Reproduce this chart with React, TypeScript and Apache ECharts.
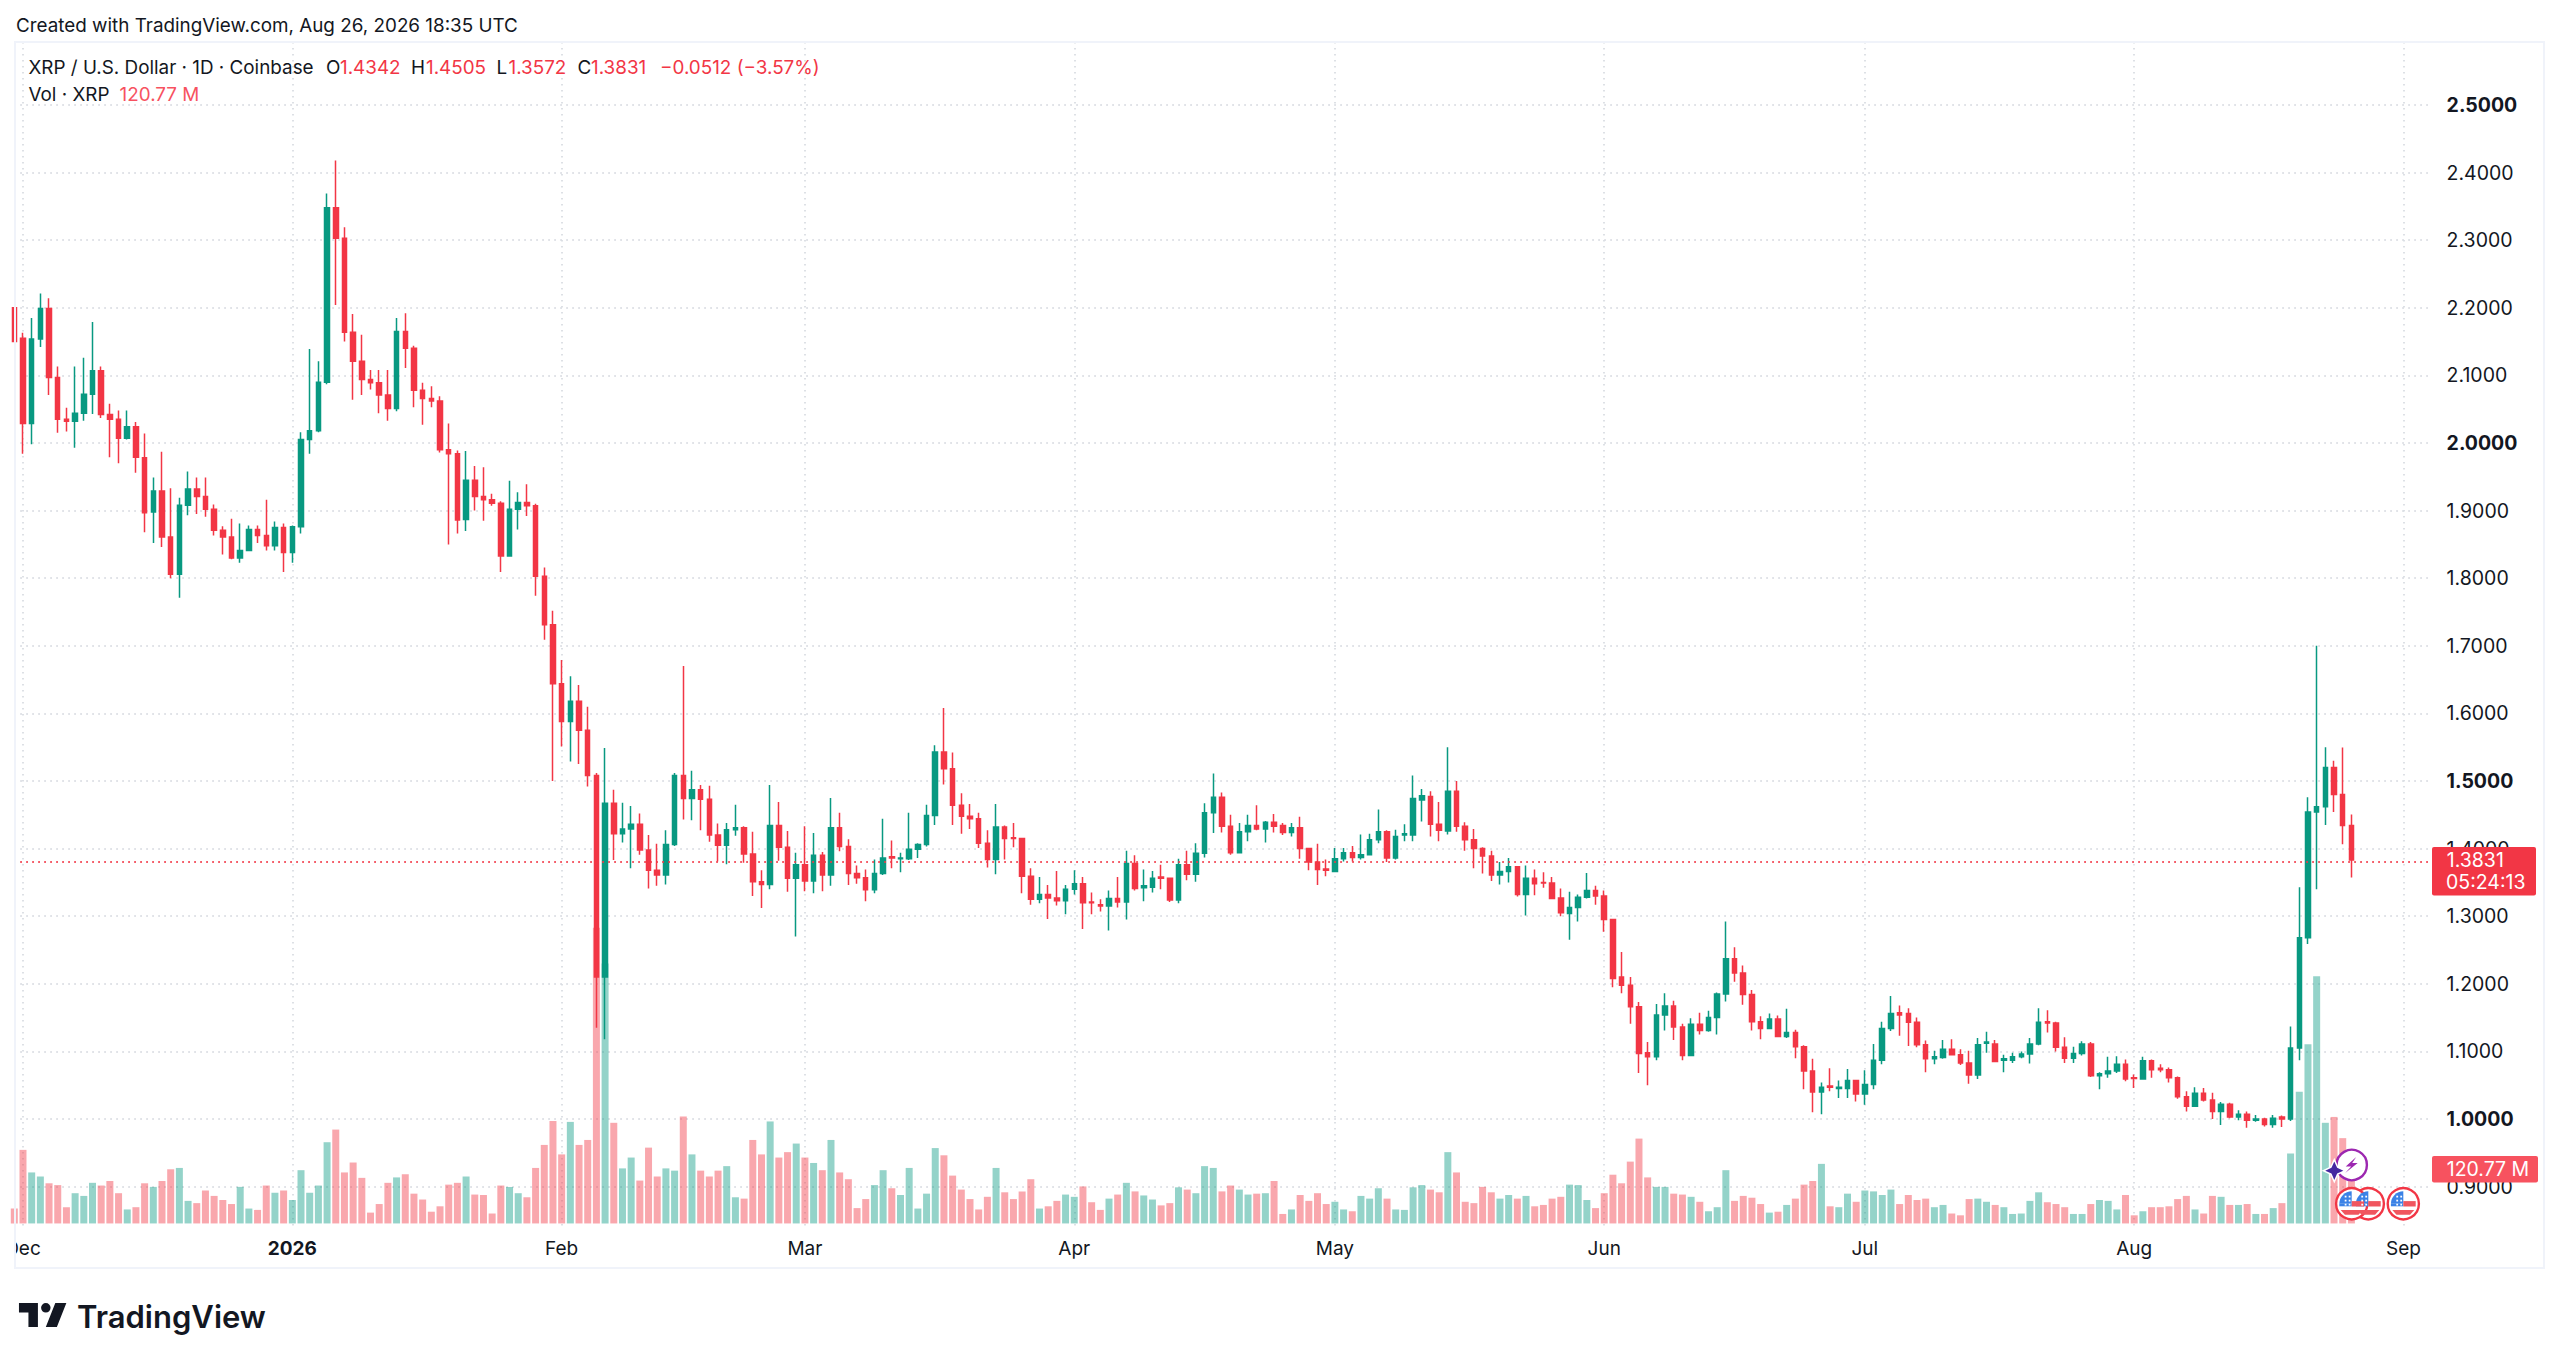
import React, { useEffect, useRef } from "react";
import * as echarts from "echarts";

const startDay = Date.UTC(2025, 10, 30);
const slots = 279;
const categories: string[] = [];
for (let i = 0; i < slots; i++) categories.push(new Date(startDay + i * 86400000).toISOString().slice(0, 10));

const monthLabels: Record<string, string> = {
  "2025-12-01": "Dec", "2026-01-01": "2026", "2026-02-01": "Feb", "2026-03-01": "Mar", "2026-04-01": "Apr",
  "2026-05-01": "May", "2026-06-01": "Jun", "2026-07-01": "Jul", "2026-08-01": "Aug", "2026-09-01": "Sep",
};

const opens = [
  2.2,2.155,2.029,2.154,2.199,2.097,2.035,2.032,2.044,2.072,
  2.107,2.042,2.035,2.007,2.024,1.978,1.898,1.929,1.861,1.806,
  1.908,1.932,1.921,1.902,1.871,1.861,1.83,1.841,1.872,1.863,
  1.848,1.875,1.838,1.876,2.005,2.018,2.09,2.348,2.303,2.164,
  2.121,2.094,2.089,2.071,2.051,2.165,2.14,2.078,2.066,2.062,
  1.99,1.984,1.887,1.945,1.921,1.916,1.911,1.833,1.902,1.912,
  1.907,1.803,1.731,1.644,1.588,1.618,1.575,1.508,1.21,1.467,
  1.422,1.429,1.436,1.398,1.368,1.361,1.406,1.508,1.474,1.487,
  1.473,1.42,1.405,1.428,1.431,1.392,1.351,1.347,1.434,1.402,
  1.356,1.376,1.352,1.39,1.361,1.431,1.403,1.363,1.357,1.339,
  1.363,1.388,1.385,1.385,1.399,1.406,1.449,1.543,1.518,1.464,
  1.448,1.444,1.408,1.384,1.432,1.416,1.415,1.359,1.325,1.332,
  1.327,1.323,1.34,1.348,1.321,1.317,1.315,1.326,1.321,1.378,
  1.342,1.343,1.358,1.356,1.324,1.376,1.362,1.393,1.453,1.476,
  1.433,1.394,1.425,1.434,1.429,1.439,1.434,1.424,1.431,1.4,
  1.38,1.37,1.366,1.385,1.394,1.387,1.391,1.413,1.425,1.386,
  1.42,1.42,1.472,1.477,1.436,1.426,1.485,1.433,1.413,1.4,
  1.389,1.361,1.366,1.373,1.332,1.356,1.35,1.349,1.327,1.304,
  1.313,1.328,1.338,1.33,1.295,1.21,1.198,1.166,1.098,1.092,
  1.154,1.167,1.136,1.094,1.14,1.131,1.15,1.185,1.237,1.216,
  1.184,1.144,1.134,1.148,1.122,1.128,1.107,1.071,1.04,1.049,
  1.045,1.045,1.057,1.037,1.051,1.087,1.134,1.157,1.156,1.143,
  1.11,1.089,1.091,1.103,1.095,1.083,1.065,1.112,1.111,1.087,
  1.087,1.092,1.096,1.111,1.144,1.142,1.106,1.09,1.097,1.111,
  1.064,1.067,1.071,1.081,1.061,1.059,1.086,1.075,1.073,1.061,
  1.033,1.019,1.038,1.028,1.011,1.022,1.003,1.007,0.998,1.0,
  0.992,1.003,1.0,1.105,1.268,1.454,1.462,1.52,1.48,1.4342,
];
const closes = [
  2.15,2.029,2.154,2.199,2.097,2.035,2.032,2.044,2.072,2.107,
  2.042,2.035,2.007,2.024,1.979,1.897,1.929,1.861,1.806,1.908,
  1.932,1.921,1.902,1.871,1.861,1.83,1.841,1.872,1.863,1.848,
  1.875,1.838,1.876,2.005,2.018,2.09,2.348,2.303,2.164,2.121,
  2.094,2.089,2.071,2.051,2.165,2.14,2.078,2.066,2.062,1.99,
  1.984,1.886,1.945,1.921,1.916,1.911,1.833,1.902,1.912,1.907,
  1.803,1.731,1.644,1.588,1.618,1.575,1.508,1.21,1.467,1.422,
  1.429,1.436,1.398,1.368,1.361,1.406,1.508,1.474,1.487,1.473,
  1.42,1.405,1.428,1.431,1.392,1.351,1.347,1.434,1.402,1.356,
  1.376,1.352,1.39,1.361,1.431,1.403,1.363,1.357,1.339,1.363,
  1.386,1.386,1.386,1.399,1.406,1.449,1.543,1.518,1.464,1.448,
  1.444,1.408,1.384,1.432,1.415,1.415,1.359,1.325,1.332,1.327,
  1.323,1.34,1.348,1.32,1.32,1.315,1.326,1.321,1.378,1.341,
  1.345,1.356,1.356,1.324,1.376,1.362,1.393,1.453,1.476,1.433,
  1.394,1.425,1.434,1.429,1.439,1.433,1.424,1.431,1.4,1.38,
  1.369,1.368,1.385,1.394,1.387,1.391,1.413,1.425,1.386,1.418,
  1.422,1.474,1.478,1.436,1.427,1.485,1.433,1.413,1.4,1.389,
  1.361,1.366,1.373,1.332,1.356,1.348,1.349,1.326,1.305,1.313,
  1.328,1.338,1.33,1.295,1.208,1.198,1.166,1.097,1.092,1.154,
  1.167,1.136,1.094,1.14,1.131,1.15,1.185,1.237,1.216,1.184,
  1.144,1.134,1.148,1.122,1.128,1.107,1.071,1.04,1.047,1.047,
  1.047,1.057,1.037,1.051,1.087,1.134,1.156,1.154,1.143,1.11,
  1.089,1.092,1.103,1.095,1.083,1.065,1.11,1.114,1.085,1.089,
  1.092,1.096,1.111,1.143,1.142,1.106,1.09,1.097,1.111,1.064,
  1.067,1.071,1.081,1.059,1.06,1.086,1.073,1.073,1.061,1.033,
  1.019,1.038,1.028,1.011,1.022,1.003,1.007,0.998,1.0,0.992,
  1.001,1.0,1.105,1.268,1.454,1.462,1.52,1.48,1.4342,1.3831,
];
const highs = [
  2.2,2.163,2.185,2.221,2.214,2.113,2.052,2.113,2.126,2.179,
  2.113,2.058,2.048,2.048,2.031,2.014,1.949,1.987,1.933,1.919,
  1.958,1.949,1.949,1.909,1.877,1.888,1.881,1.878,1.878,1.916,
  1.884,1.881,1.878,2.016,2.139,2.121,2.369,2.418,2.319,2.191,
  2.16,2.108,2.108,2.108,2.185,2.192,2.144,2.089,2.084,2.069,
  2.029,1.989,1.988,1.966,1.964,1.925,1.914,1.944,1.927,1.939,
  1.91,1.816,1.752,1.679,1.655,1.642,1.61,1.512,1.549,1.487,
  1.468,1.463,1.452,1.42,1.407,1.427,1.512,1.67,1.515,1.494,
  1.493,1.437,1.438,1.465,1.433,1.425,1.368,1.494,1.469,1.426,
  1.394,1.433,1.423,1.395,1.475,1.453,1.414,1.375,1.369,1.384,
  1.444,1.412,1.394,1.453,1.408,1.465,1.553,1.608,1.542,1.482,
  1.466,1.453,1.427,1.466,1.434,1.438,1.416,1.371,1.358,1.346,
  1.367,1.346,1.368,1.358,1.335,1.325,1.338,1.358,1.397,1.39,
  1.369,1.367,1.376,1.357,1.385,1.397,1.408,1.467,1.511,1.483,
  1.45,1.438,1.45,1.464,1.441,1.451,1.438,1.438,1.447,1.401,
  1.407,1.384,1.401,1.401,1.404,1.421,1.422,1.458,1.427,1.428,
  1.436,1.508,1.488,1.485,1.469,1.55,1.5,1.439,1.429,1.402,
  1.397,1.38,1.386,1.374,1.375,1.369,1.365,1.358,1.341,1.336,
  1.332,1.364,1.345,1.338,1.296,1.247,1.21,1.173,1.114,1.17,
  1.186,1.175,1.141,1.149,1.157,1.16,1.187,1.292,1.254,1.227,
  1.191,1.152,1.156,1.153,1.163,1.132,1.109,1.089,1.054,1.075,
  1.057,1.074,1.057,1.072,1.111,1.144,1.182,1.168,1.164,1.15,
  1.116,1.101,1.117,1.118,1.103,1.101,1.12,1.129,1.117,1.095,
  1.098,1.1,1.12,1.164,1.161,1.144,1.121,1.107,1.115,1.114,
  1.069,1.092,1.093,1.088,1.066,1.092,1.088,1.081,1.076,1.063,
  1.041,1.047,1.046,1.039,1.025,1.024,1.013,1.011,1.006,1.002,
  1.006,1.005,1.137,1.343,1.476,1.7,1.55,1.53,1.5494,1.4505,
];
const lows = [
  2.15,1.984,1.998,2.142,2.071,2.015,2.017,1.993,2.033,2.043,
  2.037,1.979,1.97,2.005,1.956,1.868,1.852,1.846,1.8,1.771,
  1.893,1.895,1.891,1.863,1.835,1.828,1.823,1.84,1.852,1.841,
  1.841,1.809,1.823,1.866,1.984,2.016,2.087,2.204,2.15,2.064,
  2.071,2.079,2.044,2.033,2.047,2.111,2.053,2.027,2.053,1.986,
  1.85,1.866,1.87,1.9,1.885,1.907,1.809,1.832,1.872,1.892,
  1.774,1.709,1.5,1.551,1.529,1.525,1.492,1.135,1.118,1.383,
  1.409,1.371,1.391,1.341,1.345,1.347,1.404,1.443,1.442,1.427,
  1.41,1.381,1.377,1.419,1.379,1.33,1.312,1.34,1.382,1.336,
  1.27,1.337,1.334,1.337,1.345,1.396,1.346,1.348,1.322,1.334,
  1.361,1.371,1.365,1.383,1.386,1.403,1.435,1.495,1.435,1.422,
  1.429,1.401,1.372,1.362,1.384,1.402,1.334,1.317,1.319,1.296,
  1.316,1.303,1.332,1.281,1.303,1.307,1.279,1.313,1.295,1.338,
  1.322,1.335,1.34,1.321,1.319,1.353,1.351,1.387,1.423,1.424,
  1.391,1.393,1.411,1.427,1.409,1.424,1.42,1.418,1.385,1.368,
  1.346,1.359,1.365,1.381,1.381,1.384,1.39,1.408,1.38,1.384,
  1.411,1.411,1.44,1.418,1.411,1.421,1.425,1.397,1.371,1.363,
  1.352,1.347,1.35,1.329,1.301,1.331,1.342,1.325,1.3,1.265,
  1.292,1.326,1.317,1.277,1.195,1.186,1.141,1.068,1.05,1.087,
  1.131,1.117,1.087,1.094,1.125,1.129,1.125,1.174,1.203,1.169,
  1.131,1.118,1.133,1.121,1.12,1.09,1.044,1.01,1.007,1.041,
  1.031,1.031,1.026,1.021,1.044,1.081,1.13,1.123,1.108,1.106,
  1.069,1.081,1.089,1.094,1.08,1.052,1.059,1.098,1.084,1.069,
  1.083,1.09,1.082,1.109,1.128,1.1,1.083,1.083,1.094,1.062,
  1.044,1.061,1.068,1.056,1.046,1.058,1.061,1.069,1.054,1.03,
  1.011,1.018,1.026,1.0,0.991,1.001,0.998,0.987,0.996,0.989,
  0.987,0.988,0.997,1.087,1.259,1.34,1.435,1.454,1.4066,1.3572,
];
const volumesM = [
  33,163,113,104,89,85,36,67,61,90,
  84,94,67,31,36,89,81,94,120,123,
  50,45,73,61,52,43,81,33,30,84,
  68,73,52,118,68,84,180,208,113,135,
  101,24,43,90,102,109,66,53,26,38,
  86,90,104,64,63,22,84,81,67,58,
  123,174,227,153,225,174,185,655,576,223,
  122,146,95,168,104,122,117,237,153,117,
  104,117,127,58,55,185,153,226,146,158,
  177,146,134,118,185,113,98,34,54,85,
  118,78,63,123,33,66,167,151,106,75,
  54,31,59,123,69,54,71,98,33,38,
  50,64,59,82,47,30,55,64,90,71,
  62,53,40,45,80,75,67,127,123,71,
  84,75,64,66,67,94,21,31,63,50,
  67,43,48,31,27,61,55,78,55,31,
  30,80,85,75,69,158,113,48,45,81,
  69,55,63,55,61,38,41,55,59,86,
  85,52,34,67,108,89,137,188,102,81,
  81,66,64,59,48,27,36,118,50,61,
  57,43,24,26,41,55,86,94,132,38,
  36,66,48,73,71,63,75,43,63,52,
  55,36,41,22,18,54,55,48,41,36,
  21,22,50,69,47,43,36,21,21,43,
  52,50,31,63,18,27,36,36,38,54,
  61,31,22,61,59,41,41,43,21,21,
  34,45,155,292,397,548,223,236,189,120.77,
];

const UP = "#089981";
const DOWN = "#F23645";
const UP_VOL = "rgba(8,153,129,0.43)";
const DOWN_VOL = "rgba(242,54,69,0.44)";
const TEXT = "#131722";
const GRID = "#DADDE3";
const FONT = "Inter, 'Noto Sans', sans-serif";
const lastClose = 1.3831;
const boldPrices = ["1.0000", "1.5000", "2.0000", "2.5000"];

echarts.graphic.registerShape("tvlogo", echarts.graphic.extendPath(
  "M14 6H2v6h6v9h6V6Zm12 15h-7l6-15h7l-6 15Zm-7-9a3 3 0 1 0 0-6 3 3 0 0 0 0 6Z", {}
) as any);

const txt = (text: string, x: number, y: number, fill: string, size: number, weight = 400, align = "left") => ({
  type: "text", x, y, z: 20, silent: true,
  style: { text, fill, font: `${weight} ${size}px ${FONT}`, align, verticalAlign: "middle" },
});

const flag = (cx: number, cy: number) => ({
  type: "group", x: cx, y: cy, z: 12, silent: true,
  children: [
    { type: "circle", shape: { r: 15.6 }, style: { fill: "#fff", stroke: DOWN, lineWidth: 2.4 }, z: 12 },
    { type: "sector", shape: { r: 12.4, startAngle: Math.PI, endAngle: Math.PI * 1.5 }, style: { fill: "#3B82E6" }, z: 13 },
    { type: "rect", shape: { x: -12.4, y: 0, width: 12.4, height: 2.6 }, style: { fill: "#3B82E6" }, z: 13 },
    { type: "rect", shape: { x: 0, y: -2.6, width: 12.4, height: 5.4 }, style: { fill: "#F0565F" }, z: 13 },
    { type: "polygon", shape: { points: [[-11, 6.4], [11, 6.4], [6.8, 11], [-6.8, 11]] }, style: { fill: "#F0565F" }, z: 13 },
    ...[[-7, -4], [-3, -4], [-7, -8], [-3, -8], [-7, 0], [-3, 0]].map(([x, y]) => ({
      type: "rect", shape: { x, y, width: 1.8, height: 1.8 }, style: { fill: "#fff" }, z: 14,
    })),
  ],
});

export default function App() {
  const ref = useRef<HTMLDivElement>(null);
  useEffect(() => {
    document.body.style.margin = "0";
    document.body.style.background = "#fff";
    const chart = echarts.init(ref.current!, undefined, { renderer: "svg" });
    const isMonth = (_: number, v: string) => v in monthLabels;
    const candleData = opens.map((o, i) => [o, closes[i], lows[i], highs[i]]);
    const volData = volumesM.map((v, i) => ({
      value: v,
      itemStyle: { color: closes[i] >= opens[i] ? UP_VOL : DOWN_VOL },
    }));
    const option: any = {
      animation: false,
      backgroundColor: "#fff",
      grid: [
        { left: 14.3, width: 2415.3, top: 37.4, height: 1216.8 },
        { left: 14.3, width: 2415.3, top: 42, height: 1185.5 },
      ],
      xAxis: [
        {
          type: "category", gridIndex: 0, data: categories, boundaryGap: false, show: false,
        },
        {
          type: "category", gridIndex: 1, data: categories, boundaryGap: false,
          axisLine: { show: false }, axisTick: { show: false },
          splitLine: { show: true, interval: isMonth, lineStyle: { color: GRID, type: [1.5, 4.5], width: 1.8 } },
          axisLabel: {
            interval: isMonth, margin: 11, color: TEXT, fontFamily: FONT, fontSize: 19,
            formatter: (v: string) => (monthLabels[v] === "2026" ? "{b|2026}" : monthLabels[v] ?? ""),
            rich: { b: { fontWeight: 700, fontSize: 19, fontFamily: FONT, color: TEXT } },
          },
        },
      ],
      yAxis: [
        {
          type: "value", gridIndex: 0, position: "right", min: 0.8, max: 2.6, interval: 0.1,
          axisLine: { show: false }, axisTick: { show: false },
          splitLine: { show: true, showMinLine: false, showMaxLine: false, lineStyle: { color: GRID, type: [1.5, 4.5], width: 1.8 } },
          axisLabel: {
            showMinLabel: false, showMaxLabel: false, margin: 17, align: "left", color: TEXT, fontFamily: FONT, fontSize: 19.5,
            formatter: (v: number) => { const s = v.toFixed(4); return boldPrices.includes(s) ? `{b|${s}}` : s; },
            rich: { b: { fontWeight: 700, fontSize: 19.5, fontFamily: FONT, color: TEXT } },
          },
        },
        { type: "value", gridIndex: 1, show: false, min: -9, max: 2618, splitLine: { show: false } },
      ],
      series: [
        {
          type: "bar", name: "Vol", xAxisIndex: 1, yAxisIndex: 1, data: volData, barWidth: 7, z: 1, silent: true,
        },
        {
          type: "candlestick", name: "XRP", xAxisIndex: 0, yAxisIndex: 0, data: candleData, barWidth: 5, z: 3, silent: true,
          itemStyle: { color: UP, color0: DOWN, borderColor: UP, borderColor0: DOWN, borderWidth: 1.5 },
          markLine: {
            symbol: "none", silent: true, animation: false, label: { show: false }, data: [{ yAxis: lastClose }],
            lineStyle: { color: DOWN, type: [1.5, 4.5], width: 1.8 },
          },
        },
      ],
      graphic: [
        { type: "rect", z: 10, silent: true, shape: { x: 0, y: 1232, width: 14.5, height: 40 }, style: { fill: "#fff" } },
        { type: "rect", z: 11, silent: true, shape: { x: 15, y: 42, width: 2529, height: 1226 }, style: { fill: "transparent", stroke: "#F0F3FA", lineWidth: 2 } },
        txt("Created with TradingView.com, Aug 26, 2026 18:35 UTC", 16, 25, TEXT, 18.85),
        txt("XRP / U.S. Dollar · 1D · Coinbase", 28.5, 67.7, TEXT, 18.85),
        txt("O", 326, 67.7, TEXT, 18.85),
        txt("1.4342", 340, 67.7, DOWN, 18.85),
        txt("H", 411, 67.7, TEXT, 18.85),
        txt("1.4505", 426, 67.7, DOWN, 18.85),
        txt("L", 496.5, 67.7, TEXT, 18.85),
        txt("1.3572", 508.5, 67.7, DOWN, 18.85),
        txt("C", 577.6, 67.7, TEXT, 18.85),
        txt("1.3831", 591, 67.7, DOWN, 18.85),
        txt("−0.0512 (−3.57%)", 660, 67.7, DOWN, 18.85),
        txt("Vol · XRP", 28.5, 94, TEXT, 18.85),
        txt("120.77 M", 119.6, 94, "#F7525F", 18.85),
        { type: "rect", z: 15, silent: true, shape: { x: 2432, y: 847, width: 104, height: 48.5, r: 2 }, style: { fill: DOWN } },
        txt("1.3831", 2446.7, 860, "#fff", 19.5),
        txt("05:24:13", 2446, 882, "#fff", 19.5),
        { type: "rect", z: 15, silent: true, shape: { x: 2432, y: 1156, width: 106, height: 26.5, r: 2 }, style: { fill: "#F7525F" } },
        txt("120.77 M", 2446.7, 1169, "#fff", 19.5),
        flag(2403.3, 1203.7),
        flag(2368.3, 1203.7),
        flag(2351.7, 1203.7),
        { type: "circle", z: 12, silent: true, x: 2351.7, y: 1165, shape: { r: 15.2 }, style: { fill: "#fff", stroke: "#9C27B0", lineWidth: 2.4 } },
        { type: "polygon", z: 13, silent: true, x: 2351.7, y: 1165, shape: { points: [[4.5, -8], [-6, 1.5], [-0.5, 1.5], [-6.5, 8], [6, -2], [0.5, -2]] }, style: { fill: "#9C27B0" } },
        { type: "polygon", z: 14, silent: true, x: 2334.3, y: 1170.7, shape: { points: [[0, -11], [3.4, -3.4], [11, 0], [3.4, 3.4], [0, 11], [-3.4, 3.4], [-11, 0], [-3.4, -3.4]] }, style: { fill: "#4527A0", stroke: "#fff", lineWidth: 1.5 } },
        { type: "tvlogo", z: 20, silent: true, x: 15.8, y: 1293.4, scaleX: 1.58, scaleY: 1.6, style: { fill: "#131722" } },
        txt("TradingView", 77, 1316, "#131722", 31, 600),
      ],
    };
    chart.setOption(option);
    return () => chart.dispose();
  }, []);
  return <div ref={ref} style={{ position: "fixed", left: 0, top: 0, width: 2560, height: 1363, background: "#fff" }} />;
}
